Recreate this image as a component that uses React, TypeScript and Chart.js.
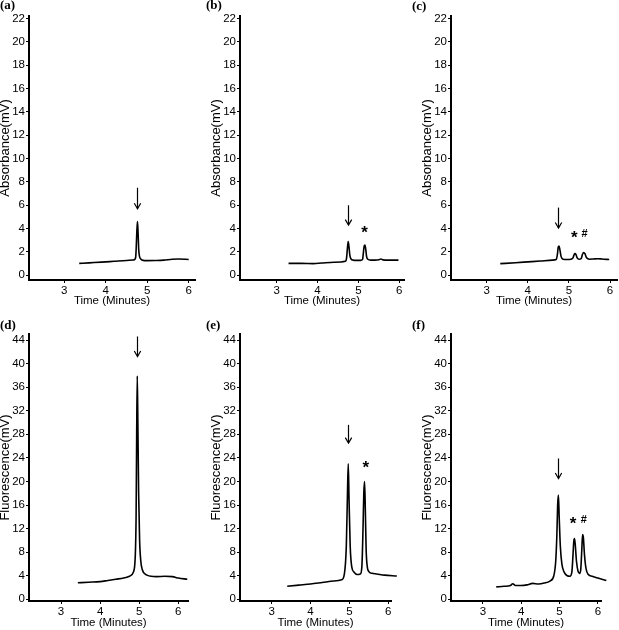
import React, { useEffect, useRef } from "react";
import { Chart, registerables } from "chart.js";

Chart.register(...registerables);

// ---------------- data ----------------
const absTicks = [0, 2, 4, 6, 8, 10, 12, 14, 16, 18, 20, 22];
const fluTicks = [0, 4, 8, 12, 16, 20, 24, 28, 32, 36, 40, 44];
const timeTicks = [3, 4, 5, 6];

const xTitle = "Time (Minutes)";
const yTitleAbs = "Absorbance(mV)";
const yTitleFlu = "Fluorescence(mV)";
const panelLabels = ["(a)", "(b)", "(c)", "(d)", "(e)", "(f)"];

// (a) absorbance
const timeA = [3.36, 3.6, 3.9, 4.2, 4.5, 4.68, 4.72, 4.735, 4.75, 4.765, 4.78, 4.795, 4.815, 4.845, 4.9, 5.0, 5.2, 5.4, 5.6, 5.75, 6.0];
const absA = [1.02, 1.07, 1.13, 1.2, 1.27, 1.32, 1.5, 2.4, 3.8, 4.6, 3.6, 2.2, 1.6, 1.4, 1.28, 1.26, 1.27, 1.3, 1.38, 1.4, 1.36];

// (b) absorbance
const timeB = [3.29, 3.6, 3.9, 4.1, 4.4, 4.68, 4.71, 4.73, 4.75, 4.77, 4.79, 4.82, 4.87, 4.95, 5.05, 5.1, 5.12, 5.14, 5.16, 5.18, 5.2, 5.23, 5.3, 5.4, 5.5, 5.55, 5.6, 5.75, 5.98];
const absB = [1.02, 1.02, 1.0, 1.05, 1.12, 1.2, 1.5, 2.3, 2.9, 2.4, 1.7, 1.4, 1.3, 1.28, 1.28, 1.35, 1.9, 2.5, 2.6, 2.2, 1.6, 1.38, 1.3, 1.3, 1.33, 1.4, 1.32, 1.3, 1.3];

// (c) absorbance
const timeC = [3.33, 3.7, 4.0, 4.3, 4.6, 4.69, 4.72, 4.74, 4.76, 4.78, 4.81, 4.86, 4.95, 5.05, 5.1, 5.13, 5.15, 5.17, 5.2, 5.25, 5.3, 5.33, 5.36, 5.39, 5.43, 5.5, 5.6, 5.7, 5.8, 5.98];
const absC = [1.0, 1.08, 1.15, 1.22, 1.3, 1.35, 1.8, 2.4, 2.5, 2.2, 1.6, 1.38, 1.35, 1.38, 1.5, 1.8, 1.87, 1.8, 1.5, 1.38, 1.45, 1.8, 1.95, 1.85, 1.5, 1.38, 1.4, 1.42, 1.4, 1.35];

// (d) fluorescence
const timeD = [3.43, 3.7, 4.0, 4.2, 4.4, 4.6, 4.75, 4.85, 4.9, 4.92, 4.935, 4.95, 4.965, 4.985, 5.01, 5.04, 5.08, 5.13, 5.2, 5.3, 5.45, 5.65, 5.85, 6.0, 6.23];
const fluD = [2.8, 2.9, 3.0, 3.2, 3.4, 3.6, 3.9, 4.6, 7.5, 14, 28, 37.9, 30, 18, 10, 6.5, 5.0, 4.4, 4.1, 3.9, 3.85, 3.9, 3.85, 3.6, 3.4];

// (e) fluorescence
const timeE = [3.4, 3.7, 4.0, 4.3, 4.6, 4.8, 4.87, 4.92, 4.95, 4.97, 4.99, 5.02, 5.06, 5.12, 5.2, 5.28, 5.32, 5.35, 5.37, 5.39, 5.41, 5.43, 5.46, 5.5, 5.58, 5.7, 5.9, 6.22];
const fluE = [2.2, 2.4, 2.6, 2.85, 3.1, 3.3, 4.3, 9, 18, 23, 17, 9, 5.5, 4.6, 4.2, 4.3, 5.5, 12, 18, 20, 15, 8.5, 5.5, 4.7, 4.4, 4.3, 4.1, 3.95];

// (f) fluorescence
const timeF = [3.35, 3.55, 3.72, 3.78, 3.85, 4.0, 4.15, 4.3, 4.45, 4.6, 4.75, 4.85, 4.9, 4.93, 4.95, 4.97, 4.99, 5.02, 5.06, 5.12, 5.2, 5.27, 5.32, 5.35, 5.37, 5.39, 5.41, 5.44, 5.48, 5.52, 5.55, 5.58, 5.6, 5.62, 5.65, 5.69, 5.75, 5.85, 6.0, 6.22];
const fluF = [2.1, 2.2, 2.35, 2.65, 2.35, 2.35, 2.45, 2.7, 2.6, 2.75, 3.1, 4.0, 6.5, 11, 16, 17.7, 14, 9, 6.0, 4.6, 4.0, 3.9, 4.6, 7.5, 9.8, 10.3, 9.2, 6.5, 4.8, 4.4, 4.9, 8.5, 11.0, 10.5, 7.5, 5.2, 4.2, 3.9, 3.6, 3.2];

// arrow annotations (one per panel, data units)
const arrowX = [4.75, 4.75, 4.74, 4.95, 4.97, 4.97];
const arrowTop = [7.5, 6.0, 5.8, 44.6, 29.6, 23.9];
const arrowBottom = [5.7, 4.3, 4.05, 41.2, 26.5, 20.5];

// symbol annotations
const markPanel = [1, 2, 2, 4, 5, 5];
const markText = ["*", "*", "#", "*", "*", "#"];
const markX = [5.15, 5.13, 5.38, 5.42, 5.35, 5.63];
const markY = [4.05, 3.6, 3.6, 23, 13.6, 13.6];

const seriesTimes = [timeA, timeB, timeC, timeD, timeE, timeF];
const seriesValues = [absA, absB, absC, fluD, fluE, fluF];

// ---------------- layout (positions only) ----------------
type Layout = {
  L: number; R: number; T: number; B: number; top: number; h: number;
  xmin: number; xmax: number; ymin: number; ymax: number;
  labelLeft: number; labelTop: number; titleBottomPad: number;
};
const layouts: Layout[] = [
  { L: 29, R: 195, T: 16, B: 280, top: 0, h: 310, xmin: 2.149, xmax: 6.152, ymin: -0.4, ymax: 22.2, labelLeft: 0, labelTop: -2, titleBottomPad: 3.8 },
  { L: 240, R: 404, T: 16, B: 280, top: 0, h: 310, xmin: 2.102, xmax: 6.115, ymin: -0.4, ymax: 22.2, labelLeft: 206, labelTop: -2, titleBottomPad: 3.8 },
  { L: 451, R: 617, T: 16, B: 280, top: 0, h: 310, xmin: 2.131, xmax: 6.17, ymin: -0.4, ymax: 22.2, labelLeft: 412, labelTop: -1, titleBottomPad: 3.8 },
  { L: 29, R: 188, T: 334, B: 601, top: 310, h: 320, xmin: 2.18, xmax: 6.248, ymin: -0.29, ymax: 45.02, labelLeft: 0, labelTop: 318, titleBottomPad: 1.8 },
  { L: 240, R: 391, T: 334, B: 601, top: 310, h: 320, xmin: 2.184, xmax: 6.07, ymin: -0.29, ymax: 45.02, labelLeft: 206, labelTop: 318, titleBottomPad: 1.8 },
  { L: 451, R: 601, T: 334, B: 601, top: 310, h: 320, xmin: 2.17, xmax: 6.08, ymin: -0.29, ymax: 45.02, labelLeft: 412, labelTop: 318, titleBottomPad: 1.8 },
];

const FONT = "'Liberation Sans', Arial, sans-serif";

function Panel({ idx }: { idx: number }) {
  const ref = useRef<HTMLCanvasElement>(null);
  const lay = layouts[idx];
  const yAxisW = 30;
  const canvasLeft = lay.L - yAxisW;
  const width = lay.R + 6 - canvasLeft;

  useEffect(() => {
    const canvas = ref.current;
    if (!canvas) return;
    const isTop = idx < 3;
    const yTicks = isTop ? absTicks : fluTicks;
    const times = seriesTimes[idx];
    const vals = seriesValues[idx];

    const marksPlugin = {
      id: "marks" + idx,
      afterDatasetsDraw(chart: any) {
        const { ctx } = chart;
        const xs = chart.scales.x;
        const ys = chart.scales.y;
        ctx.save();
        ctx.strokeStyle = "#000";
        ctx.fillStyle = "#000";
        ctx.lineWidth = 1.2;
        const px = Math.round(xs.getPixelForValue(arrowX[idx])) + 0.5;
        const p1 = ys.getPixelForValue(arrowTop[idx]);
        const p2 = ys.getPixelForValue(arrowBottom[idx]);
        ctx.beginPath();
        ctx.moveTo(px, p1);
        ctx.lineTo(px, p2);
        ctx.stroke();
        ctx.beginPath();
        ctx.moveTo(px - 3.2, p2 - 5.5);
        ctx.lineTo(px, p2);
        ctx.lineTo(px + 3.2, p2 - 5.5);
        ctx.stroke();
        ctx.textAlign = "center";
        ctx.textBaseline = "alphabetic";
        markText.forEach((t, i) => {
          if (markPanel[i] !== idx) return;
          const mx = xs.getPixelForValue(markX[i]);
          const my = ys.getPixelForValue(markY[i]);
          if (t === "*") {
            ctx.font = `bold 17px ${FONT}`;
            ctx.fillText(t, mx, my + 17 * 0.56);
          } else {
            ctx.font = `bold 11px ${FONT}`;
            ctx.fillText(t, mx, my + 11 * 0.36);
          }
        });
        ctx.restore();
      },
    };

    const chart = new Chart(canvas, {
      type: "line",
      data: {
        datasets: [
          {
            data: times.map((t, i) => ({ x: t, y: vals[i] })),
            borderColor: "#000",
            borderWidth: 1.6,
            pointRadius: 0,
            fill: false,
            cubicInterpolationMode: "monotone",
            clip: false as any,
          },
        ],
      },
      options: {
        responsive: false,
        animation: false,
        devicePixelRatio: 1,
        events: [],
        layout: { padding: { top: lay.T - lay.top, right: 6, left: 0, bottom: 0 } },
        plugins: { legend: { display: false }, tooltip: { enabled: false } },
        scales: {
          x: {
            type: "linear",
            min: lay.xmin,
            max: lay.xmax,
            afterBuildTicks: (s: any) => {
              s.ticks = timeTicks.map((v) => ({ value: v }));
            },
            afterFit: (s: any) => {
              s.height = lay.top + lay.h - lay.B;
            },
            border: { display: true, color: "#000", width: 2 },
            grid: { display: true, drawOnChartArea: false, drawTicks: true, tickLength: 3, color: "#000", lineWidth: 1 },
            ticks: { color: "#000", font: { family: FONT, size: 11.5 }, padding: 1, autoSkip: false, maxRotation: 0 },
            title: {
              display: true,
              text: xTitle,
              color: "#000",
              font: { family: FONT, size: 11.5, lineHeight: 1 },
              padding: { top: 0, bottom: lay.titleBottomPad },
            },
          },
          y: {
            type: "linear",
            min: lay.ymin,
            max: lay.ymax,
            afterBuildTicks: (s: any) => {
              s.ticks = yTicks.map((v) => ({ value: v }));
            },
            afterFit: (s: any) => {
              s.width = yAxisW;
            },
            border: { display: true, color: "#000", width: 2 },
            grid: { display: true, drawOnChartArea: false, drawTicks: true, tickLength: 3, color: "#000", lineWidth: 1 },
            ticks: { color: "#000", font: { family: FONT, size: 11.5 }, padding: 1, autoSkip: false },
            title: {
              display: true,
              text: isTop ? yTitleAbs : yTitleFlu,
              color: "#000",
              font: { family: FONT, size: 13, lineHeight: 1 },
              padding: { top: 0, bottom: 0 },
            },
          },
        },
      },
      plugins: [marksPlugin],
    } as any);
    return () => chart.destroy();
  }, [idx]);

  return (
    <>
      <canvas
        ref={ref}
        width={width}
        height={lay.h}
        style={{ position: "absolute", left: canvasLeft, top: lay.top, width, height: lay.h }}
      />
      <div
        style={{
          position: "absolute",
          left: lay.labelLeft,
          top: lay.labelTop,
          font: "bold 13px 'Liberation Serif', 'Times New Roman', serif",
          lineHeight: "13px",
          color: "#000",
          whiteSpace: "nowrap",
        }}
      >
        {panelLabels[idx]}
      </div>
    </>
  );
}

export default function App() {
  return (
    <div
      style={{
        position: "absolute",
        left: 0,
        top: 0,
        width: 619,
        height: 630,
        overflow: "hidden",
        background: "#fff",
      }}
    >
      {[0, 1, 2, 3, 4, 5].map((i) => (
        <Panel key={i} idx={i} />
      ))}
    </div>
  );
}
